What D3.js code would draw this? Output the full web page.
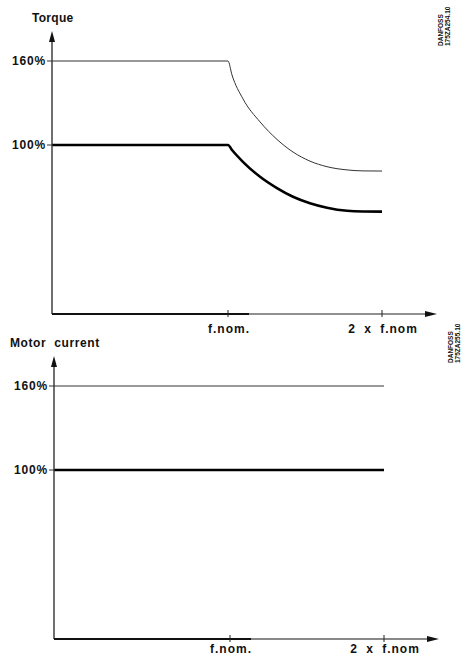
<!DOCTYPE html>
<html><head><meta charset="utf-8">
<script src="https://cdn.jsdelivr.net/npm/d3@7"></script>
<style>body{margin:0;background:#fff}svg{display:block}text{font-family:"Liberation Sans",Arial,sans-serif;font-weight:bold;fill:#111}</style>
</head><body>
<script>
// ---- data ----
const xTicks = [1, 2];
const xTickLabels = ["f.nom.", "2 x f.nom"];
const yTicks = [100, 160];
const yTickLabels = ["100%", "160%"];
// torque curves (x in multiples of f.nom, y in %)
const torqueF = [0, 1.0, 1.026, 1.097, 1.208, 1.318, 1.422, 1.532, 1.643, 1.773, 1.877, 2.0];
const torqueMax = [160, 160, 150, 133, 116.5, 104, 95, 88.5, 84.5, 82.2, 81.5, 81.4];
const torqueNom = [100, 100, 96.4, 88, 77.3, 69.2, 63, 58.4, 55.2, 53, 52.5, 52.4];
// motor current
const currentF = [0, 2.0];
const currentMax = [160, 160];
const currentNom = [100, 100];
const titles = ["Torque", "Motor current"];
const codes = [["DANFOSS", "175ZA254.10"], ["DANFOSS", "175ZA255.10"]];

const W = 468, H = 657;
const svg = d3.select("body").append("svg").attr("width", W).attr("height", H);

function panel(g, title, code, series, opts) {
  const x = d3.scaleLinear().domain([1, 2]).range([228, 382]);
  const y = d3.scaleLinear().domain([100, 160]).range([145, 61]);
  const axisY = 314, axisTop = 31, axisLeft = 52, axisRight = 437;
  const xs = v => v === 0 ? axisLeft : x(v);

  g.append("text").attr("x", opts.titleX).attr("y", 22)
    .attr("font-size", 12).attr("letter-spacing", opts.titleLS)
    .attr("word-spacing", 4).text(title);

  code.forEach((t, i) => {
    g.append("text").attr("transform", `translate(${opts.codeX + i * 7},${opts.codeY}) rotate(-90)`)
      .attr("font-size", 6.5).attr("font-weight", "normal").text(t);
  });

  series.forEach(s => {
    g.append("path")
      .datum(s.f.map((f, i) => [f, s.v[i]]))
      .attr("fill", "none").attr("stroke", s.color).attr("stroke-width", s.w)
      .attr("stroke-linejoin", "round")
      .attr("d", d3.line().x(d => xs(d[0])).y(d => y(d[1])).curve(d3.curveMonotoneX));
  });

  g.append("line").attr("x1", axisLeft).attr("x2", axisLeft).attr("y1", axisY).attr("y2", axisTop + 8)
    .attr("stroke", "#333").attr("stroke-width", 1.4);
  g.append("path").attr("d", `M${axisLeft},${axisTop} L${axisLeft - 3},${axisTop + 11} L${axisLeft + 3},${axisTop + 11} Z`).attr("fill", "#111");
  yTicks.forEach((t, i) => {
    g.append("line").attr("x1", axisLeft - 5).attr("x2", axisLeft).attr("y1", y(t)).attr("y2", y(t))
      .attr("stroke", "#333").attr("stroke-width", 1);
    g.append("text").attr("x", axisLeft - 6).attr("y", y(t)).attr("dy", "0.35em")
      .attr("text-anchor", "end").attr("font-size", 12).attr("letter-spacing", 0.8).text(yTickLabels[i]);
  });

  g.append("line").attr("x1", axisLeft).attr("x2", 249).attr("y1", axisY).attr("y2", axisY)
    .attr("stroke", "#111").attr("stroke-width", 2);
  g.append("line").attr("x1", 249).attr("x2", axisRight - 8).attr("y1", axisY).attr("y2", axisY)
    .attr("stroke", opts.xaxisColor).attr("stroke-width", opts.xaxisW);
  g.append("path").attr("d", `M${axisRight},${axisY} L${axisRight - 12},${axisY - 3} L${axisRight - 12},${axisY + 3} Z`).attr("fill", "#111");
  xTicks.forEach((t, i) => {
    g.append("line").attr("x1", x(t)).attr("x2", x(t)).attr("y1", axisY - 4).attr("y2", axisY + 3)
      .attr("stroke", "#222").attr("stroke-width", 1);
    g.append("text").attr("x", x(t) + 1).attr("y", axisY + opts.labelDy).attr("text-anchor", "middle")
      .attr("font-size", 12).attr("letter-spacing", 1).attr("word-spacing", 4).text(xTickLabels[i]);
  });
}

const gTop = svg.append("g");
panel(gTop, titles[0], codes[0], [
  {f: torqueF, v: torqueMax, color: "#333", w: 1},
  {f: torqueF, v: torqueNom, color: "#000", w: 2.6}
], {titleX: 32, titleLS: 0.3, codeX: 443, codeY: 46, xaxisColor: "#222", xaxisW: 1.2, labelDy: 19});

const gBot = svg.append("g").attr("transform", "translate(2,325)");
panel(gBot, titles[1], codes[1], [
  {f: currentF, v: currentMax, color: "#777", w: 1.5},
  {f: currentF, v: currentNom, color: "#000", w: 2.6}
], {titleX: 8, titleLS: 0.6, codeX: 451, codeY: 38, xaxisColor: "#888", xaxisW: 2, labelDy: 14});
</script>
</body></html>
